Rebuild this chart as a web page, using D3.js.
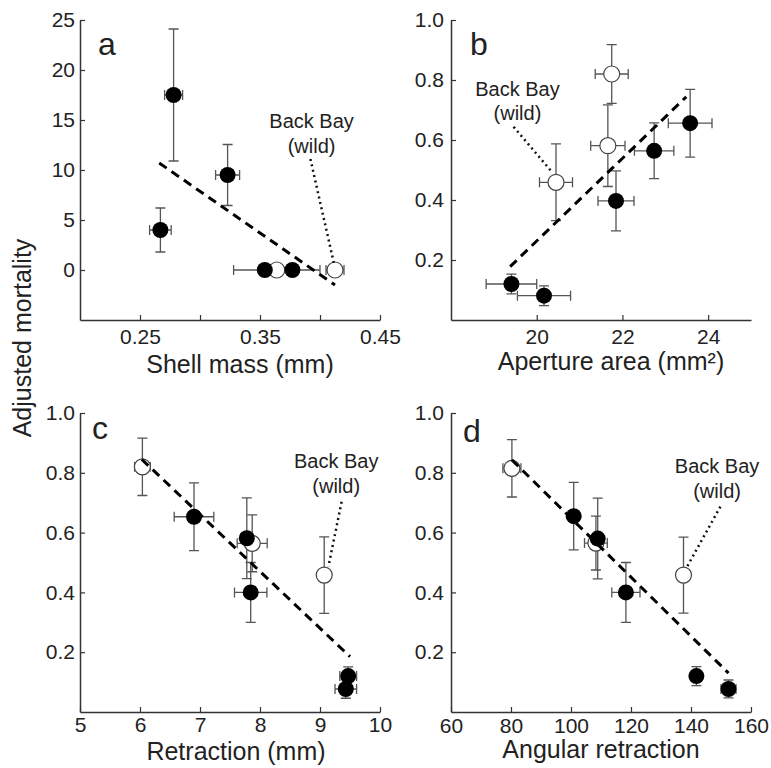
<!DOCTYPE html>
<html>
<head>
<meta charset="utf-8">
<script src="https://cdn.jsdelivr.net/npm/d3@7"></script>
<style>
  body { margin: 0; background: #fff; }
  svg { display: block; font-family: "Liberation Sans", Arial, Helvetica, sans-serif; }
  .tick text { fill: #222; }
</style>
</head>
<body>
<svg id="fig" width="771" height="768"></svg>
<script>
// panel a: shell mass
const shellMass = [0.267, 0.278, 0.323, 0.354, 0.364, 0.377, 0.4125];
const shellMassErr = [0.009, 0.0075, 0.01, 0, 0.036, 0, 0.0075];
const mortalityA = [4.0, 17.5, 9.5, 0, 0, 0, 0];
const mortalityAErr = [2.2, 6.6, 3.05, 0, 0, 0, 0];
const openA = [0, 0, 0, 0, 1, 0, 1];
const fitA = [[0.266, 10.7], [0.4125, -1.5]];
const leaderA = [[0.392, 11.1], [0.4119, 0.5]];
const noteA = [0.393, 14.2];

// panel b: aperture area
const aperture = [19.41, 20.17, 20.45, 21.75, 21.66, 21.85, 22.74, 23.58];
const apertureErr = [0.59, 0.62, 0.385, 0.385, 0.4, 0.42, 0.46, 0.51];
const mortalityB = [0.12, 0.081, 0.459, 0.82, 0.581, 0.397, 0.564, 0.656];
const mortalityBErr = [0.033, 0.033, 0.128, 0.098, 0.136, 0.1, 0.093, 0.113];
const openB = [0, 0, 1, 1, 1, 0, 0, 0];
const fitB = [[19.38, 0.178], [23.49, 0.744]];
const leaderB = [[19.46, 0.644], [20.37, 0.491]];
const noteB = [19.55, 0.747];

// panel c: retraction
const retraction = [6.04, 6.9, 7.78, 7.87, 7.845, 9.07, 9.47, 9.43];
const retractionErr = [0.13, 0.33, 0.1, 0.25, 0.27, 0.1, 0.14, 0.18];
const mortalityC = [0.82, 0.653, 0.581, 0.564, 0.4, 0.458, 0.12, 0.077];
const mortalityCErr = [0.096, 0.113, 0.135, 0.095, 0.1, 0.128, 0.031, 0.031];
const openC = [1, 0, 0, 1, 0, 1, 0, 0];
const fitC = [[6.03, 0.845], [9.5, 0.185]];
const leaderC = [[9.36, 0.703], [9.14, 0.486]];
const noteC = [9.27, 0.815];

// panel d: angular retraction
const angular = [80.3, 100.9, 108.9, 108.3, 118.3, 137.5, 141.8, 152.5];
const angularErr = [3, 1, 1, 3.8, 4.7, 2.2, 1.5, 2.5];
const mortalityD = [0.815, 0.655, 0.58, 0.565, 0.4, 0.458, 0.12, 0.077];
const mortalityDErr = [0.096, 0.113, 0.135, 0.09, 0.1, 0.127, 0.032, 0.03];
const openD = [1, 0, 0, 1, 0, 1, 0, 0];
const fitD = [[80.3, 0.843], [152.5, 0.13]];
const leaderD = [[149.8, 0.687], [138.7, 0.486]];
const noteD = [148.7, 0.798];

// ticks
const xTicksA = [0.25, 0.30, 0.35, 0.40, 0.45];
const xLabelsA = ["0.25", "", "0.35", "", "0.45"];
const yTicksA = [0, 5, 10, 15, 20, 25];
const xTicksB = [20, 22, 24];
const xTicksC = [5, 6, 7, 8, 9, 10];
const xTicksD = [60, 80, 100, 120, 140, 160];
const yTicksMort = [0.2, 0.4, 0.6, 0.8, 1.0];

const panels = [
    {letter: "a", x: shellMass, xe: shellMassErr, y: mortalityA, ye: mortalityAErr, open: openA,
     fit: fitA, leader: leaderA, note: noteA,
     xDomain: [0.2, 0.45], yDomain: [-5, 25], xRange: [80, 380], yRange: [320, 20],
     xTicks: xTicksA, xFmt: (d, i) => xLabelsA[i], yTicks: yTicksA, yFmt: d3.format("d"),
     xPad: 9, yPad: 5, title: "Shell mass (mm)", titlePos: [240, 373], letterPos: [98, 55]},
    {letter: "b", x: aperture, xe: apertureErr, y: mortalityB, ye: mortalityBErr, open: openB,
     fit: fitB, leader: leaderB, note: noteB,
     xDomain: [18, 25], yDomain: [0, 1], xRange: [451, 751], yRange: [320, 20],
     xTicks: xTicksB, xFmt: d3.format("d"), yTicks: yTicksMort, yFmt: d3.format(".1f"),
     xPad: 9, yPad: 7, title: "Aperture area (mm²)", titlePos: [611, 370], letterPos: [470, 55]},
    {letter: "c", x: retraction, xe: retractionErr, y: mortalityC, ye: mortalityCErr, open: openC,
     fit: fitC, leader: leaderC, note: noteC,
     xDomain: [5, 10], yDomain: [0, 1], xRange: [80, 380], yRange: [712, 413],
     xTicks: xTicksC, xFmt: d3.format("d"), yTicks: yTicksMort, yFmt: d3.format(".1f"),
     xPad: 5, yPad: 5, title: "Retraction (mm)", titlePos: [236, 760], letterPos: [92, 439]},
    {letter: "d", x: angular, xe: angularErr, y: mortalityD, ye: mortalityDErr, open: openD,
     fit: fitD, leader: leaderD, note: noteD,
     xDomain: [60, 160], yDomain: [0, 1], xRange: [451, 751], yRange: [712, 413],
     xTicks: xTicksD, xFmt: d3.format("d"), yTicks: yTicksMort, yFmt: d3.format(".1f"),
     xPad: 6, yPad: 7, title: "Angular retraction", titlePos: [601, 758], letterPos: [463, 442]}
];

const svg = d3.select("#fig");
svg.append("rect").attr("width", 771).attr("height", 768).attr("fill", "#fff");

const barColor = "#555";
const cap = 5;

panels.forEach(p => {
    const xScale = d3.scaleLinear().domain(p.xDomain).range(p.xRange);
    const yScale = d3.scaleLinear().domain(p.yDomain).range(p.yRange);
    const g = svg.append("g");

    const rows = p.x.map((v, i) => ({x: v, xe: p.xe[i], y: p.y[i], ye: p.ye[i], open: p.open[i]}));

    // axes, ticks pointing inward
    const xAxis = d3.axisBottom(xScale).tickValues(p.xTicks).tickFormat(p.xFmt)
        .tickSizeInner(-5).tickSizeOuter(0).tickPadding(p.xPad);
    const yAxis = d3.axisLeft(yScale).tickValues(p.yTicks).tickFormat(p.yFmt)
        .tickSizeInner(-5).tickSizeOuter(0).tickPadding(p.yPad);

    const gx = g.append("g").attr("transform", `translate(0,${p.yRange[0]})`).call(xAxis);
    const gy = g.append("g").attr("transform", `translate(${p.xRange[0]},0)`).call(yAxis);
    [gx, gy].forEach(a => {
        a.select(".domain").attr("stroke", "#333").attr("stroke-width", 1.5);
        a.selectAll(".tick line").attr("stroke", "#333").attr("stroke-width", 1.2);
        a.selectAll(".tick text").attr("font-size", 21).attr("font-family", null);
    });

    // error bars
    const eb = g.append("g").attr("stroke", barColor).attr("stroke-width", 1.3).attr("fill", "none");
    rows.filter(d => d.ye > 0).forEach(d => {
        const cx = xScale(d.x), y0 = yScale(d.y - d.ye), y1 = yScale(d.y + d.ye);
        eb.append("path").attr("d",
            `M${cx},${y0}V${y1}M${cx - cap},${y0}H${cx + cap}M${cx - cap},${y1}H${cx + cap}`);
    });
    rows.filter(d => d.xe > 0).forEach(d => {
        const cy = yScale(d.y), x0 = xScale(d.x - d.xe), x1 = xScale(d.x + d.xe);
        eb.append("path").attr("d",
            `M${x0},${cy}H${x1}M${x0},${cy - cap}V${cy + cap}M${x1},${cy - cap}V${cy + cap}`);
    });

    // markers: open first, filled on top
    g.selectAll(".open")
        .data(rows.filter(d => d.open))
        .join("circle")
        .attr("class", "open")
        .attr("cx", d => xScale(d.x))
        .attr("cy", d => yScale(d.y))
        .attr("r", 8)
        .attr("fill", "#fff")
        .attr("stroke", "#444")
        .attr("stroke-width", 1.2);

    g.selectAll(".filled")
        .data(rows.filter(d => !d.open))
        .join("circle")
        .attr("class", "filled")
        .attr("cx", d => xScale(d.x))
        .attr("cy", d => yScale(d.y))
        .attr("r", 8)
        .attr("fill", "#000");

    const line = d3.line().x(d => xScale(d[0])).y(d => yScale(d[1]));

    // regression line
    g.append("path")
        .attr("d", line(p.fit))
        .attr("fill", "none")
        .attr("stroke", "#000")
        .attr("stroke-width", 3)
        .attr("stroke-dasharray", "9,6");

    // Back Bay leader
    g.append("path")
        .attr("d", line(p.leader))
        .attr("fill", "none")
        .attr("stroke", "#111")
        .attr("stroke-width", 2.5)
        .attr("stroke-dasharray", "2,3.5");

    const note = g.append("text")
        .attr("x", xScale(p.note[0]))
        .attr("y", yScale(p.note[1]))
        .attr("text-anchor", "middle")
        .attr("font-size", 20)
        .attr("fill", "#222");
    note.append("tspan").attr("x", xScale(p.note[0])).text("Back Bay");
    note.append("tspan").attr("x", xScale(p.note[0])).attr("dy", 24.5).text("(wild)");

    // panel letter
    g.append("text")
        .attr("x", p.letterPos[0])
        .attr("y", p.letterPos[1])
        .attr("font-size", 32)
        .attr("fill", "#222")
        .text(p.letter);

    // x title
    g.append("text")
        .attr("x", p.titlePos[0])
        .attr("y", p.titlePos[1])
        .attr("text-anchor", "middle")
        .attr("font-size", 25)
        .attr("fill", "#222")
        .text(p.title);
});

svg.append("text")
    .attr("transform", "translate(31,338) rotate(-90)")
    .attr("text-anchor", "middle")
    .attr("font-size", 25)
    .attr("fill", "#222")
    .text("Adjusted mortality");
</script>
</body>
</html>
